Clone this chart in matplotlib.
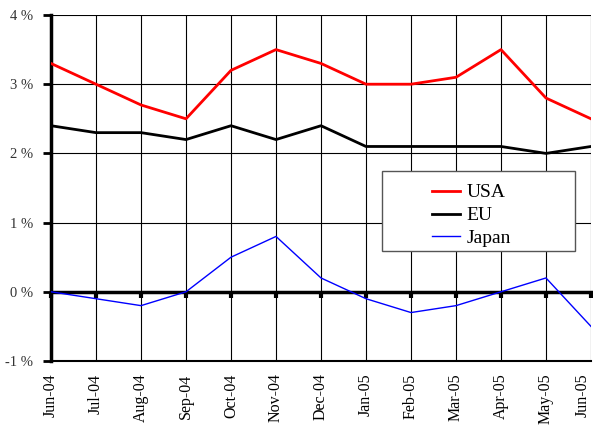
import matplotlib.pyplot as plt
from matplotlib.patches import Rectangle

months = ['Jun-04', 'Jul-04', 'Aug-04', 'Sep-04', 'Oct-04', 'Nov-04', 'Dec-04',
          'Jan-05', 'Feb-05', 'Mar-05', 'Apr-05', 'May-05', 'Jun-05']
usa = [3.3, 3.0, 2.7, 2.5, 3.2, 3.5, 3.3, 3.0, 3.0, 3.1, 3.5, 2.8, 2.5]
eu = [2.4, 2.3, 2.3, 2.2, 2.4, 2.2, 2.4, 2.1, 2.1, 2.1, 2.1, 2.0, 2.1]
japan = [0.0, -0.1, -0.2, 0.0, 0.5, 0.8, 0.2, -0.1, -0.3, -0.2, 0.0, 0.2, -0.5]
yticks = [-1, 0, 1, 2, 3, 4]

plt.rcParams['font.family'] = ['Liberation Serif', 'DejaVu Serif']

fig = plt.figure(figsize=(5.93, 4.25), dpi=100)
ax = fig.add_axes([0.086, 0.1506, 0.9106, 0.8141])

x = list(range(len(months)))
ax.plot(x, usa, color='red', lw=2, label='USA', zorder=5)
ax.plot(x, eu, color='black', lw=2, label='EU', zorder=5)
ax.plot(x, japan, color='blue', lw=1, label='Japan', zorder=5)

ax.set_xlim(0, len(months) - 1)
ax.set_ylim(-1, 4)
ax.set_yticks(yticks)
ax.set_yticklabels([f'{v} %' for v in yticks], fontsize=10.5, color='#333333')
ax.tick_params(axis='y', length=6, width=2, direction='out', pad=7)

# zero line carries the category ticks
ax.spines['bottom'].set_position(('data', 0))
ax.spines['bottom'].set_linewidth(2.5)
ax.spines['left'].set_linewidth(2.5)
ax.spines['top'].set_visible(False)
ax.spines['right'].set_visible(False)
ax.set_xticks(x)
ax.tick_params(axis='x', length=4, width=3, direction='out', labelbottom=False)

sec = ax.secondary_xaxis(0)
sec.set_xticks(x)
sec.set_xticklabels(months, rotation=90, fontsize=11.5)
sec.tick_params(length=0, pad=9)
sec.spines['bottom'].set_visible(False)
# keep the last label inside the figure
sec.get_xticklabels()[-1].set_horizontalalignment('right')

ax.grid(True, color='black', lw=0.8)
ax.axhline(-1, color='black', lw=1.5, clip_on=False, zorder=1)
ax.set_axisbelow(True)

# legend box
ax.add_patch(Rectangle((0.613, 0.318), 0.357, 0.231, transform=ax.transAxes,
                       facecolor='white', edgecolor='#555555', lw=1, zorder=6))
leg = ax.legend(loc='upper left', bbox_to_anchor=(0.688, 0.54),
                fontsize=14, frameon=False, handlelength=1.45,
                handletextpad=0.3, labelspacing=0.27, borderpad=0.0)
leg.set_zorder(7)

fig.savefig('out.png', dpi=100)
